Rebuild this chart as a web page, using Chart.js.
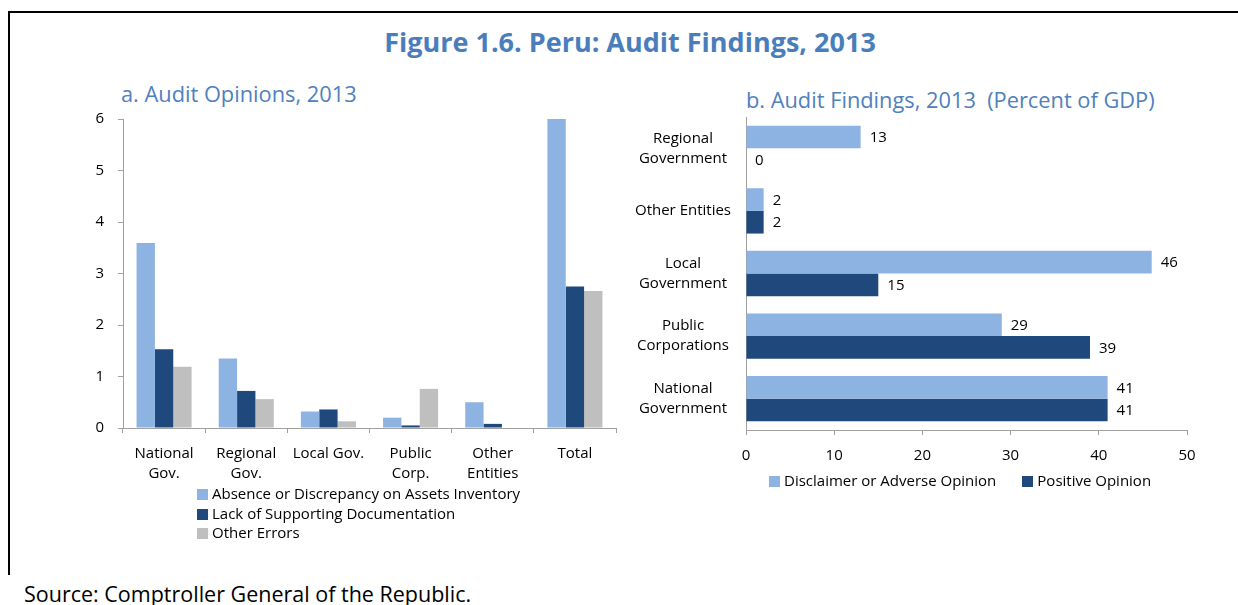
<!DOCTYPE html>
<html lang="en">
<head>
    <meta charset="UTF-8">
    <title>Peru: Audit Findings, 2013</title>
    <script src="https://cdn.jsdelivr.net/npm/chart.js"></script>
    <style>
        body { margin: 0; width: 1238px; height: 605px; overflow: hidden; background: #fff; font-family: "Open Sans", sans-serif; position: relative; }
        .frame { position: absolute; left: 8px; top: 11px; width: 1240px; height: 562px; border-left: 2px solid #000; border-top: 2px solid #000; }
        .title { position: absolute; left: 0; width: 1260px; top: 23px; text-align: center; font-size: 27px; font-weight: bold; color: #4a7ebb; line-height: 38px; }
        .subtitle { position: absolute; font-size: 21.8px; color: #4f81bd; line-height: 30px; white-space: pre; }
        .source { position: absolute; left: 24px; top: 580px; font-size: 21.5px; line-height: 28px; color: #000; }
        .chart-box { position: absolute; }
        .legend { position: absolute; font-size: 15px; line-height: 19.5px; color: #000; }
        .legend span.box { display: inline-block; width: 11px; height: 11px; margin-right: 4px; vertical-align: -1px; }
        .legend .item { white-space: nowrap; }
        .legend.row .item { display: inline-block; margin-right: 26px; }
    </style>
</head>
<body>
    <div class="frame"></div>
    <div class="title">Figure 1.6. Peru: Audit Findings, 2013</div>
    <div class="subtitle" style="left: 121px; top: 79px;">a. Audit Opinions, 2013</div>
    <div class="subtitle" style="left: 746px; top: 85px;">b. Audit Findings, 2013  (Percent of GDP)</div>

    <div class="chart-box" style="left: 60px; top: 100px; width: 570px; height: 390px;">
        <canvas id="opinionsChart"></canvas>
    </div>
    <div class="legend" id="opinionsLegend" style="left: 197px; top: 484px;"></div>

    <div class="chart-box" style="left: 600px; top: 100px; width: 620px; height: 370px;">
        <canvas id="findingsChart"></canvas>
    </div>
    <div class="legend row" id="findingsLegend" style="left: 769px; top: 471px;"></div>

    <div class="source">Source: Comptroller General of the Republic.</div>

    <script>
    // a. Audit opinions by type of entity
    const opinionCategories = [['National', 'Gov.'], ['Regional', 'Gov.'], 'Local Gov.', ['Public', 'Corp.'], ['Other', 'Entities'], 'Total'];
    const assetsInventory = [3.59, 1.35, 0.32, 0.20, 0.50, 6.0];
    const supportingDocs = [1.53, 0.72, 0.36, 0.05, 0.08, 2.75];
    const otherErrors = [1.19, 0.56, 0.13, 0.76, 0, 2.66];
    const opinionSeries = ['Absence or Discrepancy on Assets Inventory', 'Lack of Supporting Documentation', 'Other Errors'];

    // b. Audit findings, percent of GDP
    const findingCategories = [['Regional', 'Government'], 'Other Entities', ['Local', 'Government'], ['Public', 'Corporations'], ['National', 'Government']];
    const disclaimerAdverse = [13, 2, 46, 29, 41];
    const positiveOpinion = [0, 2, 15, 39, 41];
    const findingSeries = ['Disclaimer or Adverse Opinion', 'Positive Opinion'];

    const lightBlue = '#8db3e2';
    const darkBlue = '#1f497d';
    const grey = '#bfbfbf';
    const axisGrey = '#a0a0a0';

    Chart.defaults.font.family = '"Open Sans", sans-serif';
    Chart.defaults.font.size = 15;
    Chart.defaults.color = '#000';
    Chart.defaults.animation = false;

    // writes the value next to the end of every bar
    const valueLabels = {
        id: 'valueLabels',
        afterDatasetsDraw(chart) {
            const ctx = chart.ctx;
            ctx.save();
            ctx.font = '15px "Open Sans", sans-serif';
            ctx.fillStyle = '#000';
            ctx.textAlign = 'left';
            ctx.textBaseline = 'middle';
            chart.data.datasets.forEach((ds, i) => {
                chart.getDatasetMeta(i).data.forEach((bar, j) => {
                    ctx.fillText(String(ds.data[j]), bar.x + 9, bar.y + 1);
                });
            });
            ctx.restore();
        }
    };

    // the tick labels should not push the plot area around
    const noLabelPadding = (scale) => {
        scale.paddingTop = 0;
        scale.paddingBottom = 0;
    };

    function buildLegend(id, labels, colors) {
        const el = document.getElementById(id);
        labels.forEach((label, i) => {
            const item = document.createElement('div');
            item.className = 'item';
            item.innerHTML = '<span class="box" style="background:' + colors[i] + '"></span>' + label;
            el.appendChild(item);
        });
    }

    new Chart(document.getElementById('opinionsChart'), {
        type: 'bar',
        data: {
            labels: opinionCategories,
            datasets: [
                { label: opinionSeries[0], data: assetsInventory, backgroundColor: lightBlue },
                { label: opinionSeries[1], data: supportingDocs, backgroundColor: darkBlue },
                { label: opinionSeries[2], data: otherErrors, backgroundColor: grey }
            ]
        },
        options: {
            responsive: true,
            maintainAspectRatio: false,
            categoryPercentage: 0.67,
            barPercentage: 1,
            layout: { padding: { top: 19, right: 14, left: 0, bottom: 0 } },
            plugins: { legend: { display: false }, tooltip: { enabled: false } },
            scales: {
                x: {
                    grid: { display: true, drawOnChartArea: false, tickLength: 5, color: axisGrey, offset: true },
                    border: { color: axisGrey },
                    ticks: { padding: 11, maxRotation: 0, autoSkip: false, font: { lineHeight: 1.33 } },
                    afterFit: (scale) => { scale.height = 62; }
                },
                y: {
                    min: 0,
                    max: 6,
                    grid: { display: true, drawOnChartArea: false, tickLength: 5, color: axisGrey },
                    border: { color: axisGrey },
                    ticks: { stepSize: 1, padding: 14 },
                    afterFit: (scale) => { scale.width = 63; noLabelPadding(scale); }
                }
            }
        }
    });

    new Chart(document.getElementById('findingsChart'), {
        type: 'bar',
        data: {
            labels: findingCategories,
            datasets: [
                { label: findingSeries[0], data: disclaimerAdverse, backgroundColor: lightBlue },
                { label: findingSeries[1], data: positiveOpinion, backgroundColor: darkBlue }
            ]
        },
        options: {
            indexAxis: 'y',
            responsive: true,
            maintainAspectRatio: false,
            categoryPercentage: 0.724,
            barPercentage: 1,
            layout: { padding: { top: 17, right: 33, left: 0, bottom: 0 } },
            plugins: { legend: { display: false }, tooltip: { enabled: false } },
            scales: {
                x: {
                    min: 0,
                    max: 50,
                    grid: { display: true, drawOnChartArea: false, tickLength: 5, color: axisGrey },
                    border: { color: axisGrey },
                    ticks: { stepSize: 10, padding: 12 },
                    afterFit: (scale) => { scale.height = 40; }
                },
                y: {
                    grid: { display: false, drawTicks: false, tickLength: 0 },
                    border: { color: axisGrey },
                    ticks: { padding: 15, crossAlign: 'center', autoSkip: false, font: { lineHeight: 1.33 } },
                    afterFit: (scale) => { scale.width = 146; noLabelPadding(scale); }
                }
            }
        },
        plugins: [valueLabels]
    });

    buildLegend('opinionsLegend', opinionSeries, [lightBlue, darkBlue, grey]);
    buildLegend('findingsLegend', findingSeries, [lightBlue, darkBlue]);
    </script>
</body>
</html>
